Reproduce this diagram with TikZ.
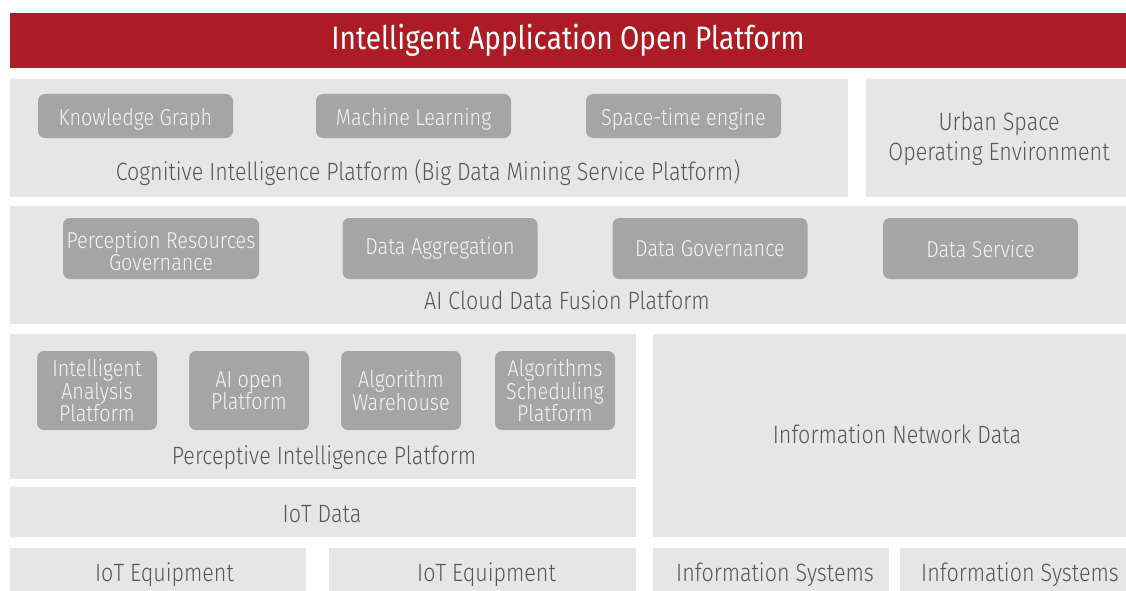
\documentclass[tikz,border=0pt]{standalone}
\usepackage{fontspec}
\setmainfont{Fira Sans Light}[FakeStretch=0.86]
\newfontfamily\titlefont{Fira Sans}[FakeStretch=0.86]
\definecolor{barred}{HTML}{AD1C24}
\definecolor{panelgrey}{HTML}{E6E6E7}
\definecolor{subgrey}{HTML}{A5A5A5}
\definecolor{txtgrey}{HTML}{575757}
\definecolor{subtxt}{HTML}{F4F4F4}
\tikzset{
  panel/.style={fill=panelgrey, draw=none, inner sep=0pt, outer sep=0pt},
  subbox/.style={fill=subgrey, draw=none, rounded corners=7pt, inner sep=0pt, outer sep=0pt,
    text=subtxt, align=center, font=\fontsize{23}{22.5}\selectfont},
  subtext/.style={text=subtxt, align=center, inner sep=0pt, font=\fontsize{23}{22.5}\selectfont},
  lbl/.style={text=txtgrey, align=center, inner sep=0pt, font=\fontsize{25}{30}\selectfont},
}
\begin{document}
\begin{tikzpicture}[x=1pt,y=-1pt]
\path[use as bounding box, fill=white] (0,0) rectangle (1126,591);
% title bar
\node[fill=barred, inner sep=0pt, minimum width=1116pt, minimum height=55pt, text=white,
  font=\titlefont\fontsize{32.5}{34}\selectfont] (title) at (568,40.5) {Intelligent Application Open Platform};
% top row
\node[panel, minimum width=838pt, minimum height=118pt] (cog) at (429,138) {};
\node[lbl] (cogl) at (428,173) {Cognitive Intelligence Platform (Big Data Mining Service Platform)};
\node[panel, minimum width=260pt, minimum height=118pt] (urban) at (996,138) {};
\node[lbl] (urbanl) at (999,139) {Urban Space\\Operating Environment};
\node[subbox, minimum width=195pt, minimum height=44pt] (kg) at (135.5,116) {};
\node[subtext] (kgl) at (135.5,119) {Knowledge Graph};
\node[subbox, minimum width=195pt, minimum height=44pt] (ml) at (413.5,116) {};
\node[subtext] (mll) at (413.5,119) {Machine Learning};
\node[subbox, minimum width=195pt, minimum height=44pt] (ste) at (683.5,116) {};
\node[subtext] (stel) at (683.5,119) {Space-time engine};
% AI cloud
\node[panel, minimum width=1116pt, minimum height=118pt] (ai) at (568,265) {};
\node[lbl] (ail) at (567,300) {AI Cloud Data Fusion Platform};
\node[subbox, minimum width=196pt, minimum height=61pt] (prg) at (161,248.5) {};
\node[subtext] (prgl) at (161,251) {Perception Resources\\Governance};
\node[subbox, minimum width=195pt, minimum height=61pt] (da) at (440,248.5) {Data Aggregation};
\node[subbox, minimum width=195pt, minimum height=61pt] (dg) at (710,248.5) {Data Governance};
\node[subbox, minimum width=195pt, minimum height=61pt] (ds) at (980.5,248.5) {Data Service};
% perceptive
\node[panel, minimum width=626pt, minimum height=145pt] (perc) at (323,406.5) {};
\node[lbl] (percl) at (324,458) {Perceptive Intelligence Platform};
\node[subbox, minimum width=120pt, minimum height=79pt] (iap) at (97,390.5) {Intelligent\\Analysis\\Platform};
\node[subbox, minimum width=120pt, minimum height=79pt] (aop) at (249,390.5) {AI open\\Platform};
\node[subbox, minimum width=120pt, minimum height=79pt] (aw) at (401,390.5) {Algorithm\\Warehouse};
\node[subbox, minimum width=120pt, minimum height=79pt] (asp) at (555,390.5) {Algorithms\\Scheduling\\Platform};
% IoT data
\node[panel, minimum width=626pt, minimum height=50pt] (iotd) at (323,512) {};
\node[lbl] (iotdl) at (322,514) {IoT Data};
% information network data
\node[panel, minimum width=473pt, minimum height=203pt] (ind) at (889.5,435.5) {};
\node[lbl] (indl) at (897,434) {Information Network Data};
% bottom row
\node[panel, minimum width=296pt, minimum height=47pt] (iote1) at (158,571.5) {};
\node[lbl] (iote1l) at (164.5,575) {IoT Equipment};
\node[panel, minimum width=307pt, minimum height=47pt] (iote2) at (482.5,571.5) {};
\node[lbl] (iote2l) at (486.5,575) {IoT Equipment};
\node[panel, minimum width=236pt, minimum height=47pt] (infs1) at (771,571.5) {};
\node[lbl] (infs1l) at (775,575) {Information Systems};
\node[panel, minimum width=226pt, minimum height=47pt] (infs2) at (1013,571.5) {};
\node[lbl] (infs2l) at (1020,575) {Information Systems};
\end{tikzpicture}
\end{document}
